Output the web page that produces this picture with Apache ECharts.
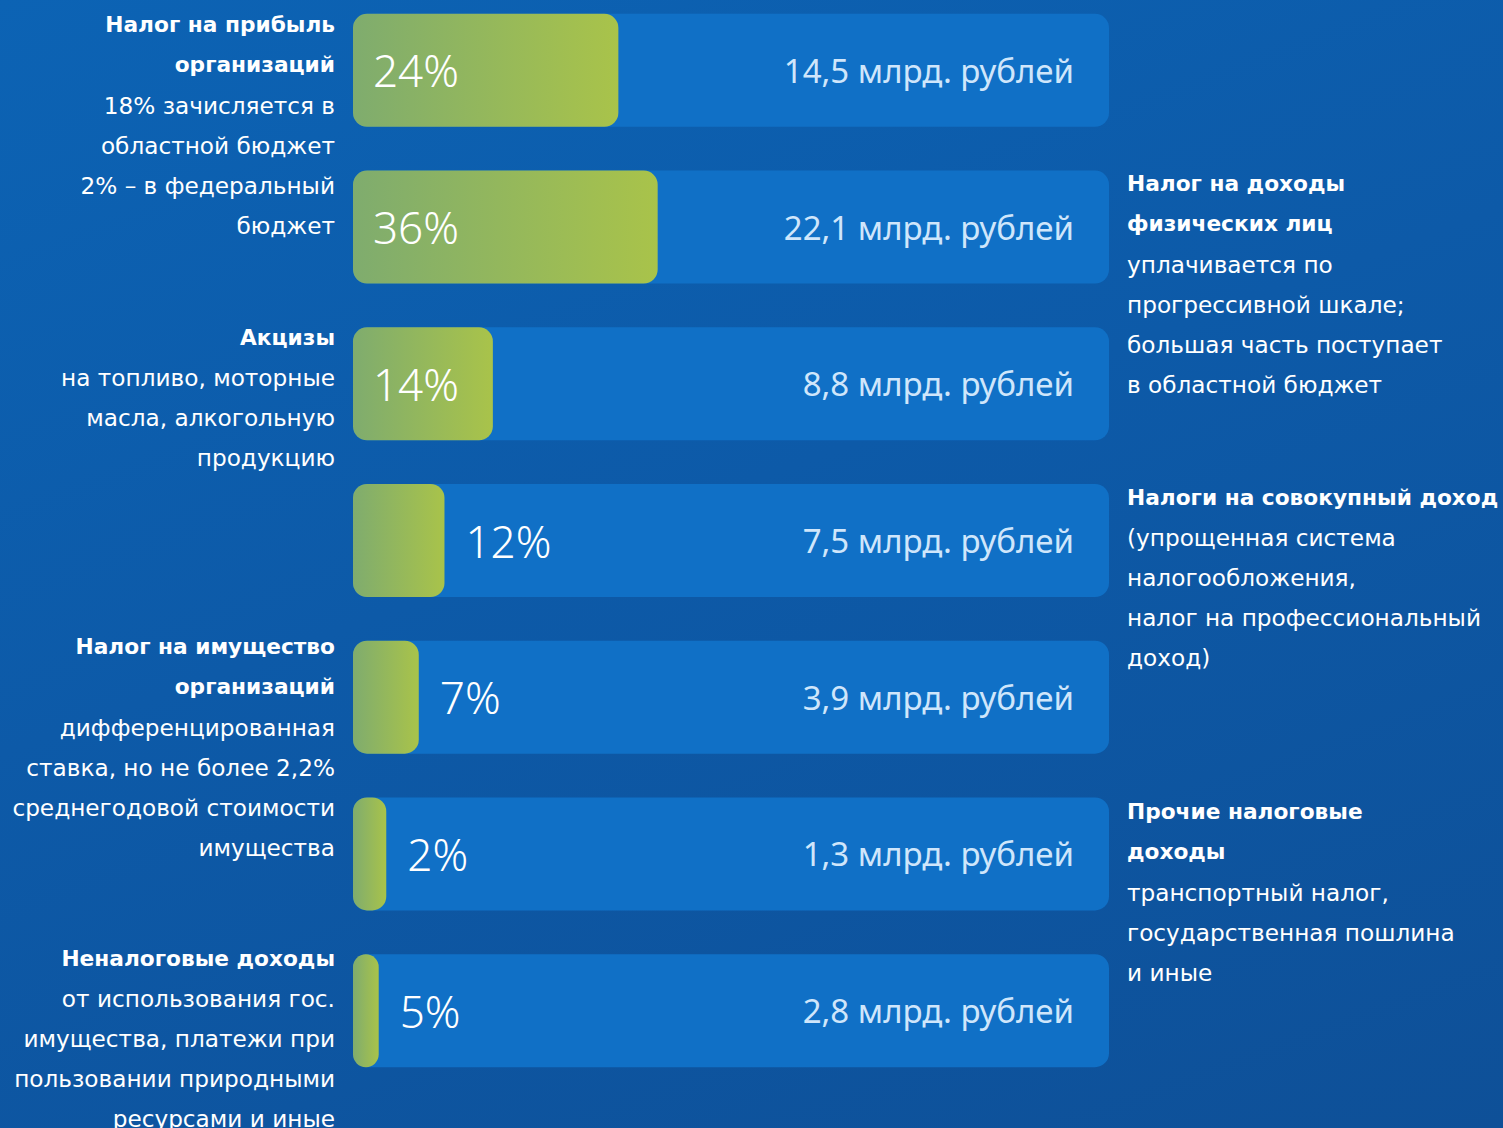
<!DOCTYPE html>
<html>
<head>
<meta charset="utf-8">
<script src="https://cdn.jsdelivr.net/npm/echarts@6/dist/echarts.min.js"></script>
<style>
html,body{margin:0;padding:0;width:1503px;height:1128px;overflow:hidden;
background:linear-gradient(160deg,#0c63b4 0%,#0d5aa8 45%,#0e5098 100%);}
#chart{width:1503px;height:1136px;margin-top:-8px;}
</style>
</head>
<body>
<div id="chart"></div>
<script>
// Categories (top to bottom)
const categories = [
  'Налог на прибыль организаций',
  'Налог на доходы физических лиц',
  'Акцизы',
  'Налоги на совокупный доход',
  'Налог на имущество организаций',
  'Прочие налоговые доходы',
  'Неналоговые доходы'
];
// Share of revenues, %
const shares = [24, 36, 14, 12, 7, 2, 5];
// Amounts, billion rubles
const amounts = [14.5, 22.1, 8.8, 7.5, 3.9, 1.3, 2.8];
// Length of the green bar as drawn, % of full track
const greenLength = [35.1, 40.3, 18.5, 12.1, 8.7, 4.4, 3.4];
// Full track value
const trackValue = [100, 100, 100, 100, 100, 100, 100];

// Annotation texts
const notes = [
  {side: 'left',  row: 0, title: ['Налог на прибыль', 'организаций'], body: ['18% зачисляется в', 'областной бюджет', '2% – в федеральный', 'бюджет']},
  {side: 'right', row: 1, title: ['Налог на доходы', 'физических лиц'], body: ['уплачивается по', 'прогрессивной шкале;', 'большая часть поступает', 'в областной бюджет']},
  {side: 'left',  row: 2, title: ['Акцизы'], body: ['на топливо, моторные', 'масла, алкогольную', 'продукцию']},
  {side: 'right', row: 3, title: ['Налоги на совокупный доход'], body: ['(упрощенная система', 'налогообложения,', 'налог на профессиональный', 'доход)']},
  {side: 'left',  row: 4, title: ['Налог на имущество', 'организаций'], body: ['дифференцированная', 'ставка, но не более 2,2%', 'среднегодовой стоимости', 'имущества']},
  {side: 'right', row: 5, title: ['Прочие налоговые', 'доходы'], body: ['транспортный налог,', 'государственная пошлина', 'и иные']},
  {side: 'left',  row: 6, title: ['Неналоговые доходы'], body: ['от использования гос.', 'имущества, платежи при', 'пользовании природными', 'ресурсами и иные']}
];
const noteTop = [4, 163, 317, 477, 626, 791, 938];

const FONT = '"Noto Sans", "Open Sans", sans-serif';
const NOTE_FONT = '"DejaVu Sans", "Noto Sans", sans-serif';
const SHIFT = 8; // chart canvas starts 8px above the page

const chart = echarts.init(document.getElementById('chart'), null, {renderer: 'svg'});

const greenData = greenLength.map((v, i) => ({
  value: v,
  label: v > 15
    ? {position: 'insideLeft', distance: 20}
    : {position: 'right', distance: 21}
}));

const graphics = notes.map(n => {
  const lines = n.title.map(t => '{b|' + t + '}').concat(n.body.map(t => '{n|' + t + '}'));
  return {
    type: 'text',
    x: n.side === 'left' ? 335 : 1127,
    y: noteTop[n.row] + SHIFT,
    style: {
      text: lines.join('\n'),
      align: n.side === 'left' ? 'right' : 'left',
      verticalAlign: 'top',
      fill: '#ffffff',
      rich: {
        b: {fontFamily: NOTE_FONT, fontSize: 21.7, fontWeight: 'bold', lineHeight: 40.5, fill: '#ffffff'},
        n: {fontFamily: NOTE_FONT, fontSize: 23.2, fontWeight: 'normal', lineHeight: 40, fill: '#ffffff'}
      }
    }
  };
});

chart.setOption({
  backgroundColor: 'transparent',
  animation: false,
  grid: {left: 353, right: 394, top: 0, bottom: 39, containLabel: false},
  xAxis: {type: 'value', min: 0, max: 100, show: false},
  yAxis: {type: 'category', data: categories, inverse: true, show: false},
  series: [
    {
      type: 'bar',
      data: trackValue,
      barWidth: 113,
      itemStyle: {color: '#1070c6', borderRadius: 14},
      label: {
        show: true,
        position: 'insideRight',
        distance: 35,
        formatter: p => String(amounts[p.dataIndex]).replace('.', ',') + ' млрд. рублей',
        fontFamily: FONT,
        fontSize: 33,
        color: '#cfe6fb'
      },
      z: 2
    },
    {
      type: 'bar',
      data: greenData,
      barWidth: 113,
      barGap: '-100%',
      itemStyle: {
        borderRadius: 14,
        color: new echarts.graphic.LinearGradient(0, 0, 1, 0, [
          {offset: 0, color: '#7fac6e'},
          {offset: 1, color: '#a9c34a'}
        ])
      },
      label: {
        show: true,
        formatter: p => shares[p.dataIndex] + '%',
        fontFamily: FONT,
        fontSize: 44,
        fontWeight: 300,
        color: '#ffffff'
      },
      z: 3
    }
  ],
  graphic: graphics
});
</script>
</body>
</html>
